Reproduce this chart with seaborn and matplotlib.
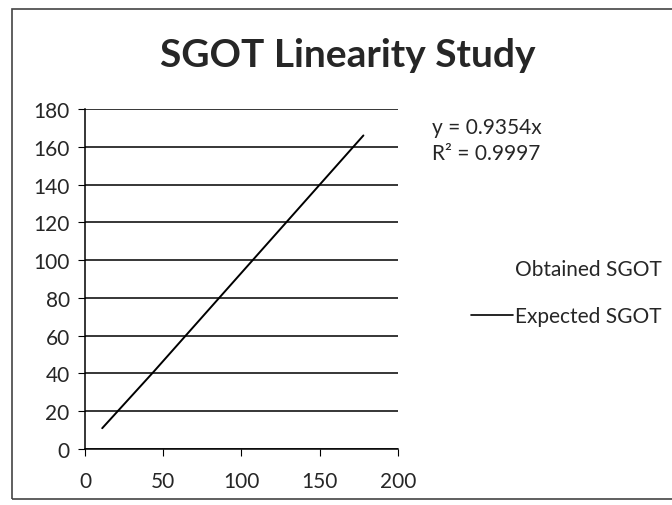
import numpy as np
import pandas as pd
import matplotlib
matplotlib.use("Agg")
import matplotlib.pyplot as plt
import seaborn as sns
from matplotlib.lines import Line2D

# expected vs obtained SGOT (U/L)
expected = [11, 22, 44, 89, 178]
obtained = [11, 21, 41, 83, 166]
xticks = [0, 50, 100, 150, 200]
yticks = list(range(0, 181, 20))
equation = "y = 0.9354x"
r2 = "R² = 0.9997"

sns.set_style("white")
plt.rcParams['font.family'] = ['Lato', 'DejaVu Sans']

df = pd.DataFrame({'Expected': expected, 'Obtained': obtained})

fig = plt.figure(figsize=(6.72, 5.06), dpi=100)
ax = fig.add_axes([0.1265, 0.1107, 0.4655, 0.6719])

sns.lineplot(data=df, x='Expected', y='Obtained', color='black', lw=1.4, ax=ax)

ax.set_xlim(0, 200)
ax.set_ylim(0, 180)
ax.set_xticks(xticks)
ax.set_yticks(yticks)
ax.grid(axis='y', color='black', lw=1.1)
ax.grid(axis='x', visible=False)
for s in ['top', 'right']:
    ax.spines[s].set_visible(False)
for s in ['left', 'bottom']:
    ax.spines[s].set_color('black')
    ax.spines[s].set_linewidth(1.1)
ax.tick_params(axis='both', direction='out', length=5, color='black',
               labelsize=15, left=True, bottom=True, pad=6)
ax.tick_params(axis='x', pad=11)
ax.set_xlabel('')
ax.set_ylabel('')

fig.text(0.518, 0.89, "SGOT Linearity Study", ha='center', va='center',
         fontsize=28, fontweight='bold')
fig.text(0.643, 0.748, equation, fontsize=15, va='center')
fig.text(0.643, 0.695, r2, fontsize=15, va='center')

handles = [Line2D([], [], color='none'),
           Line2D([], [], color='black', lw=1.2)]
leg = fig.legend(handles, ['Obtained SGOT', 'Expected SGOT'],
                 loc='center left', bbox_to_anchor=(0.673, 0.42),
                 frameon=False, fontsize=15, handlelength=2.0,
                 handletextpad=0.1, labelspacing=1.3)

# chart border
fig.patches.append(plt.Rectangle((0.018, 0.012), 0.99, 0.968, fill=False,
                                 edgecolor='#444444', lw=1.2,
                                 transform=fig.transFigure, figure=fig))

fig.savefig("out.png", dpi=100)
